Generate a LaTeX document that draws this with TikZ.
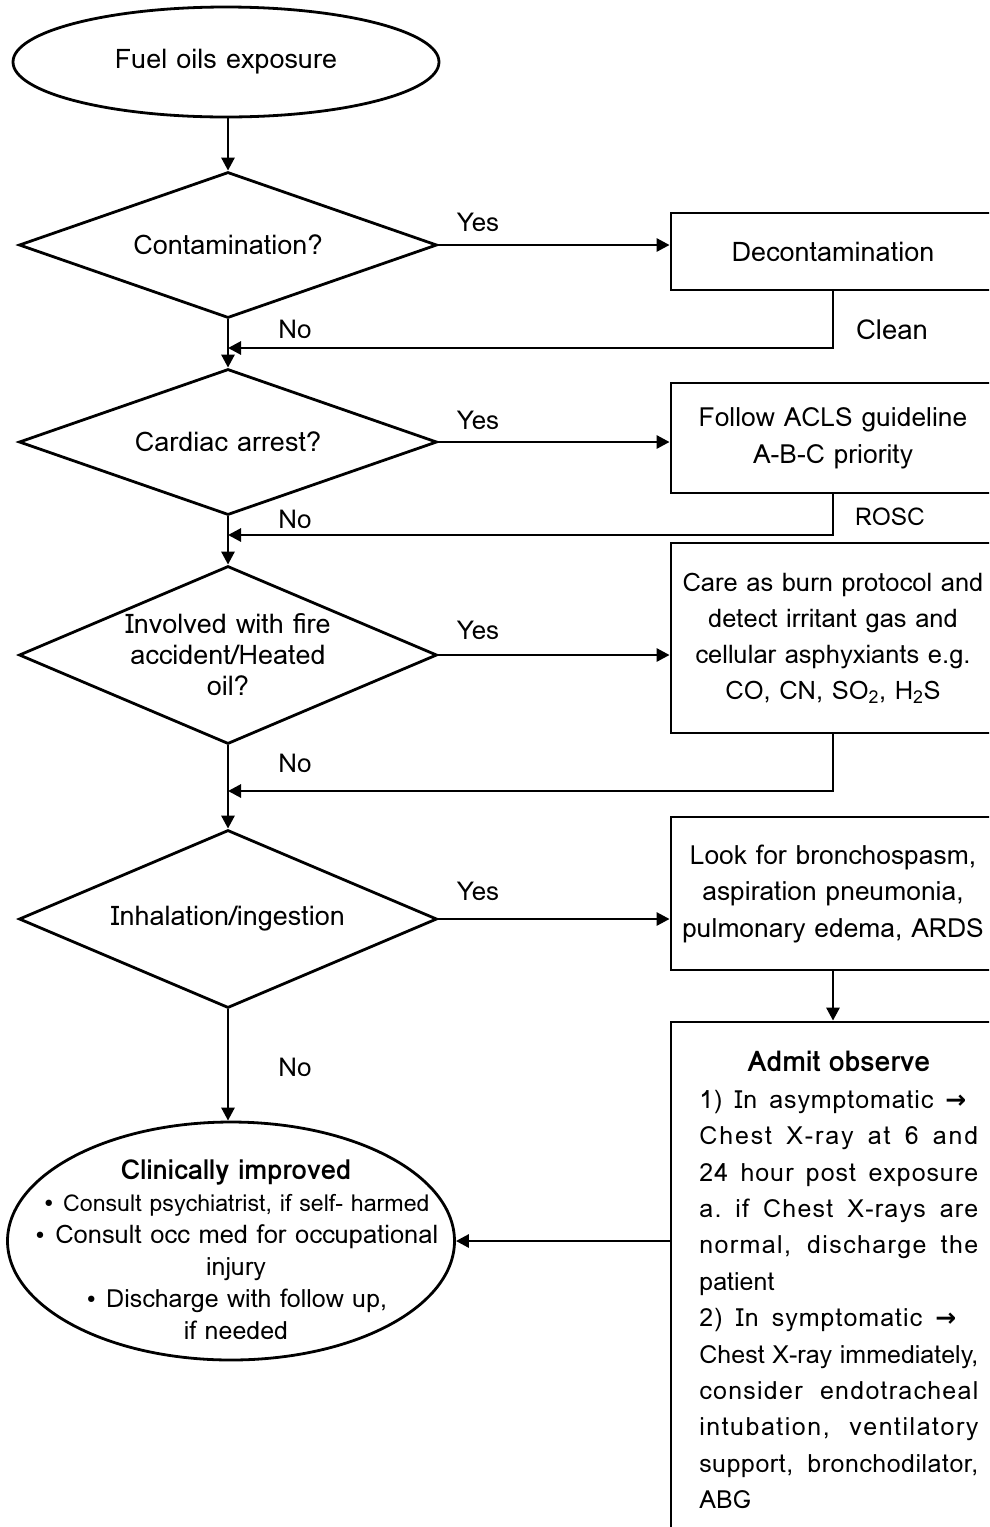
\documentclass[tikz,border=0pt]{standalone}
\usepackage{fontspec}
\setmainfont{Loma}
\newfontfamily\symfont{DejaVu Sans}
\usetikzlibrary{shapes.geometric,arrows.meta}
\newcommand{\fs}[2]{\fontsize{#1}{#2}\selectfont}
\newcommand{\bul}{{\symfont\fs{22}{32}•}}
\newcommand{\jx}[3]{\makebox[#1][s]{\addfontfeature{LetterSpace=#2}\spaceskip=0.28em plus 1fil\relax\xspaceskip=0.28em plus 1fil\relax #3}}
\newcommand{\arr}{{\symfont\bfseries →}}
\begin{document}
\begin{tikzpicture}[x=1pt,y=-1pt, line width=2.8pt,
  >={Triangle[length=13pt,width=13pt]},
  every node/.style={font=\fs{27}{36}},
  startend/.style={draw, ellipse, inner sep=0pt},
  decision/.style={draw, diamond, inner sep=0pt, align=center},
  procbox/.style={draw, rectangle, inner sep=0pt, align=center},
  lbl/.style={inner sep=0pt, font=\fs{26}{30}},
  txt/.style={inner sep=0pt, align=center}
]
\useasboundingbox (0,0) rectangle (989,1527);
\clip (0,0) rectangle (989,1527);

% main column
\node[startend, minimum width=426, minimum height=110] (start) at (226,62) {Fuel oils exposure};
\node[decision, aspect=2.86, minimum width=418, minimum height=146] (d1) at (228,245) {Contamination?};
\node[decision, aspect=2.86, minimum width=418, minimum height=146] (d2) at (228,442) {Cardiac arrest?};
\node[decision, aspect=2.35, minimum width=418, minimum height=178, font=\fs{27}{31}] (d3) at (228,655) {Involved with fire\\accident/Heated\\oil?};
\node[decision, aspect=2.35, minimum width=418, minimum height=178] (d4) at (228,919) {Inhalation/ingestion};
\node[startend, minimum width=447, minimum height=238] (e) at (231,1241) {};
\node[txt, font=\fs{25}{32}] (et) at (236,1250) {{\fs{27.5}{32}\bfseries Clinically improved}\\
{\fs{23.2}{32}\bul\ Consult psychiatrist, if self- harmed}\\
{\fs{25.5}{32}\bul\ Consult occ med for occupational}\\
injury\\
\bul\ Discharge with follow up,\\
if needed};

% right column
\node[procbox, minimum width=324, minimum height=77] (b1) at (833,251.5) {Decontamination};
\node[procbox, minimum width=324, minimum height=110, font=\fs{26.4}{37}] (b2) at (833,438) {Follow ACLS guideline\\A-B-C priority};
\node[procbox, minimum width=324, minimum height=190, font=\fs{25.5}{36}] (b3) at (833,638) {Care as burn protocol and\\detect irritant gas and\\cellular asphyxiants e.g.\\CO, CN, SO\textsubscript{2}, H\textsubscript{2}S};
\node[procbox, minimum width=324, minimum height=153, font=\fs{26.4}{36.5}] (b4) at (833,893.5) {Look for bronchospasm,\\aspiration pneumonia,\\pulmonary edema, ARDS};
\node[procbox, minimum width=324, minimum height=518] (b5) at (833,1281) {};
\node[inner sep=0pt, anchor=north west, text width=279, align=left, font=\fs{25}{36.4}] (b5t) at (698,1050) {\makebox[279pt][c]{\fs{28.5}{36.4}\bfseries Admit observe}\\
\jx{267pt}{3.5}{1) In asymptomatic \arr}\\
\jx{279pt}{7.5}{Chest X-ray at 6 and}\\
\jx{279pt}{4}{24 hour post exposure}\\
\jx{279pt}{5}{a. if Chest X-rays are}\\
\jx{279pt}{5.5}{normal, discharge the}\\
patient\\
\jx{257pt}{4}{2) In symptomatic \arr}\\
\jx{279pt}{0}{Chest X-ray immediately,}\\
\jx{279pt}{5}{consider endotracheal}\\
\jx{279pt}{6}{intubation, ventilatory}\\
\jx{279pt}{2}{support, bronchodilator,}\\
ABG};

% labels
\node[lbl] (y1) at (478,222) {Yes};
\node[lbl] (y2) at (478,420) {Yes};
\node[lbl] (y3) at (478,630) {Yes};
\node[lbl] (y4) at (478,891) {Yes};
\node[lbl] (n1) at (295,329) {No};
\node[lbl] (n2) at (295,519) {No};
\node[lbl] (n3) at (295,763) {No};
\node[lbl] (n4) at (295,1067) {No};
\node[lbl, font=\fs{27.5}{30}] (cl) at (892,330) {Clean};
\node[lbl, font=\fs{24.5}{30}] (ro) at (890,517) {ROSC};

% junctions
\coordinate (j1) at (228,348);
\coordinate (j2) at (228,535);
\coordinate (j3) at (228,791);

% connectors
\draw[->] (d1.north |- start.south) -- (d1.north);
\draw[->] (d1.south) -- (d2.north);
\draw[->] (d2.south) -- (d3.north);
\draw[->] (d3.south) -- (d4.north);
\draw[->] (d4.south) -- (e.north -| d4.south);
\draw[->] (d1.east) -- (d1.east -| b1.west);
\draw[->] (d2.east) -- (d2.east -| b2.west);
\draw[->] (d3.east) -- (d3.east -| b3.west);
\draw[->] (d4.east) -- (d4.east -| b4.west);
\draw[->] (b1.south) |- (j1);
\draw[->] (b2.south) |- (j2);
\draw[->] (b3.south) |- (j3);
\draw[->] (b4.south) -- (b5.north);
\draw[->] (b5.west |- e.east) -- (e.east);
\end{tikzpicture}
\end{document}
